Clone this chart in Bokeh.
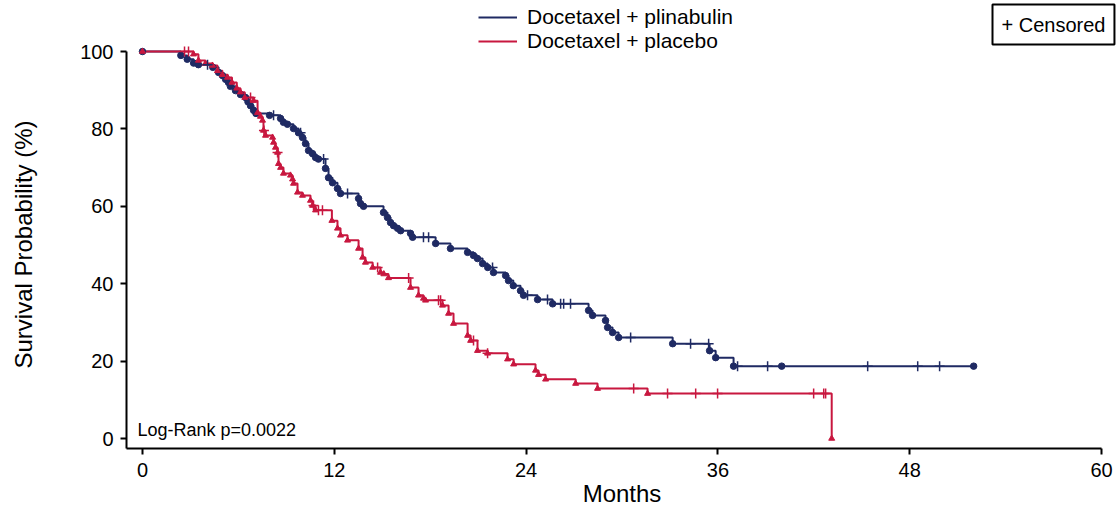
import numpy as np
from bokeh.plotting import figure
from bokeh.models import (ColumnDataSource, FixedTicker, Legend, LegendItem,
                          Label, Range1d, Title)
from bokeh.embed import file_html
from bokeh.resources import INLINE

FONT = "Liberation Sans"
BLUE = "#1f2a63"
RED = "#c8173f"

# ---------------- data ----------------
# Docetaxel + plinabulin: step times (months) and survival (%) after each step
plin_time = [0, 2.4, 2.8, 3.2, 3.5, 4.4, 4.76, 5.0, 5.2, 5.38, 5.5, 5.82, 6.13,
             6.45, 6.6, 6.76, 6.95, 7.1, 7.95, 8.64, 8.82, 9.07, 9.45, 9.76,
             10.01, 10.2, 10.39, 10.64, 10.83, 11.01, 11.45, 11.64, 11.89, 12.2,
             12.39, 13.52, 13.64, 13.83, 15.08, 15.33, 15.52, 15.71, 15.96,
             16.15, 16.77, 16.9, 18.34, 19.27, 20.34, 20.71, 20.96, 21.28, 21.6,
             21.96, 22.72, 22.9, 23.2, 23.65, 23.84, 24.72, 25.66, 27.91, 28.16,
             28.97, 29.1, 29.41, 29.79, 33.17, 35.48, 35.86, 36.98, 39.99, 52.0]
plin_surv = [100, 99.0, 98.0, 97.0, 96.6, 95.9, 94.6, 93.8, 92.8, 92.0, 91.0,
             89.9, 88.9, 88.1, 87.0, 86.0, 84.8, 84.0, 83.5, 82.7, 81.7, 81.2,
             80.1, 79.0, 77.8, 76.2, 74.4, 73.6, 72.6, 72.2, 69.8, 67.4, 66.1,
             64.6, 63.3, 62.0, 60.7, 60.0, 58.4, 57.1, 55.8, 55.0, 54.3, 53.7,
             53.0, 52.0, 50.4, 49.1, 48.1, 47.3, 46.5, 45.2, 44.2, 42.9, 42.1,
             40.8, 39.5, 38.2, 37.0, 35.9, 34.8, 33.1, 31.8, 30.5, 28.7, 27.4,
             26.1, 24.5, 22.7, 20.9, 18.7, 18.7, 18.7]
plin_censored = [4.07, 8.2, 9.89, 11.33, 12.83, 17.58, 17.9, 21.9, 24.09, 25.34,
                 26.16, 26.35, 26.78, 30.54, 34.29, 35.42, 37.23, 39.11, 45.37,
                 48.5, 49.87]

# Docetaxel + placebo
plac_time = [0, 3.19, 3.5, 3.94, 4.38, 4.69, 5.0, 5.32, 5.6, 5.9, 6.13, 6.4,
             6.95, 7.2, 7.38, 7.51, 7.57, 7.7, 8.14, 8.2, 8.32, 8.45, 8.51, 8.64,
             8.82, 9.26, 9.39, 9.45, 9.7, 10.01, 10.51, 10.64, 10.83, 11.85,
             12.2, 12.39, 12.83, 13.52, 13.77, 13.95, 14.4, 14.89, 15.1, 15.39,
             16.77, 17.27, 17.58, 17.71, 18.77, 19.15, 19.46, 20.34, 20.53,
             20.96, 21.59, 22.84, 23.22, 24.59, 24.78, 25.22, 27.1, 28.47, 31.6,
             43.12]
plac_surv = [100, 99.3, 97.7, 96.9, 96.4, 95.0, 94.0, 93.3, 92.0, 90.5, 89.5,
             88.1, 87.3, 84.2, 83.2, 82.2, 79.6, 78.3, 77.8, 76.5, 75.2, 73.9,
             71.0, 70.0, 68.5, 68.0, 67.0, 65.9, 63.6, 62.8, 61.5, 60.2, 59.0,
             56.3, 54.3, 52.5, 51.2, 49.1, 46.8, 45.5, 44.2, 42.9, 42.5, 41.5,
             39.0, 37.0, 36.2, 35.7, 34.4, 32.3, 29.7, 26.6, 25.3, 22.7, 22.0,
             20.5, 19.2, 17.6, 16.5, 15.3, 14.2, 12.9, 11.6, 0.0]
plac_censored = [2.63, 2.88, 6.76, 7.6, 8.45, 10.7, 11.01, 11.26, 14.71, 16.65,
                 18.52, 18.65, 20.71, 21.59, 30.73, 32.85, 34.61, 35.98, 41.99,
                 42.62, 42.74]

x_ticks = [0, 12, 24, 36, 48, 60]
y_ticks = [0, 20, 40, 60, 80, 100]
series_names = ["Docetaxel + plinabulin", "Docetaxel + placebo"]
pvalue_text = "Log-Rank p=0.0022"
censor_text = "+ Censored"


def surv_at(times, surv, t):
    idx = np.searchsorted(np.asarray(times), np.asarray(t), side="right") - 1
    return list(np.asarray(surv)[idx])


src_b = ColumnDataSource(dict(t=plin_time, s=plin_surv))
src_r = ColumnDataSource(dict(t=plac_time, s=plac_surv))
cen_b = ColumnDataSource(dict(t=plin_censored,
                              s=surv_at(plin_time, plin_surv, plin_censored)))
cen_r = ColumnDataSource(dict(t=plac_censored,
                              s=surv_at(plac_time, plac_surv, plac_censored)))

p = figure(width=1117, height=512, output_backend="svg", toolbar_location=None,
           x_range=Range1d(-1.0, 61.0), y_range=Range1d(-2.58, 113.18))
p.min_border = 0
p.min_border_left = 126
p.min_border_top = 0
p.min_border_bottom = 64
p.outline_line_color = None
p.xgrid.visible = False
p.ygrid.visible = False
p.background_fill_color = "white"
p.border_fill_color = "white"

rb = p.step(x="t", y="s", source=src_b, mode="after", line_color=BLUE, line_width=2)
rr = p.step(x="t", y="s", source=src_r, mode="after", line_color=RED, line_width=2)
p.scatter(x="t", y="s", source=src_b, marker="circle", size=6.5,
          fill_color=BLUE, line_color=BLUE)
p.scatter(x="t", y="s", source=src_r, marker="triangle", size=6,
          fill_color=RED, line_color=RED)
p.scatter(x="t", y="s", source=cen_r, marker="cross", size=10,
          line_color=RED, line_width=1.5)
p.scatter(x="t", y="s", source=cen_b, marker="cross", size=10,
          line_color=BLUE, line_width=1.5)

# axes
for ax in (p.xaxis[0], p.yaxis[0]):
    ax.axis_line_width = 2
    ax.axis_line_color = "black"
    ax.major_tick_line_width = 2
    ax.major_tick_line_color = "black"
    ax.major_tick_in = 0
    ax.major_tick_out = 6
    ax.minor_tick_line_color = None
    ax.major_label_text_font = FONT
    ax.major_label_text_font_size = "20px"
    ax.major_label_text_color = "black"
    ax.axis_label_text_font = FONT
    ax.axis_label_text_font_size = "24px"
    ax.axis_label_text_font_style = "normal"
    ax.axis_label_text_color = "black"

p.xaxis.ticker = FixedTicker(ticks=x_ticks)
p.yaxis.ticker = FixedTicker(ticks=y_ticks)
p.xaxis.bounds = (-1.0, 60)
p.yaxis.bounds = (-2.58, 100)
p.xaxis.axis_label = "Months"
p.xaxis.major_label_standoff = 8
p.xaxis.axis_label_standoff = 0
p.yaxis.major_label_standoff = 7
# blank, tiny axis label only reserves the gap between tick labels and title
p.yaxis.axis_label = " "
p.yaxis.axis_label_text_font_size = "1px"
p.yaxis.axis_label_standoff = 28

# y-axis title, centred on the drawn axis span (0..100) rather than the frame
ytitle = Title(text="Survival Probability (%)", align="left",
               vertical_align="middle", offset=80, standoff=16,
               text_font=FONT, text_font_size="24px", text_font_style="normal",
               text_color="black")
p.add_layout(ytitle, "left")

legend = Legend(items=[LegendItem(label=series_names[0], renderers=[rb]),
                       LegendItem(label=series_names[1], renderers=[rr])],
                location=(352, 395), orientation="vertical",
                padding=0, margin=0, spacing=0,
                glyph_width=39, glyph_height=24, label_height=24,
                label_standoff=10, label_text_font=FONT,
                label_text_font_size="21px", label_text_color="black",
                border_line_color=None, background_fill_alpha=0)
p.add_layout(legend)

p.add_layout(Label(x=866, y=444, x_units="screen", y_units="screen",
                   text=censor_text, text_font=FONT, text_font_size="20px",
                   text_baseline="top", text_align="left", text_color="black",
                   padding=9, border_line_color="black", border_line_width=2,
                   background_fill_color="white"))

p.add_layout(Label(x=11, y=19, x_units="screen", y_units="screen",
                   text=pvalue_text, text_font=FONT, text_font_size="18px",
                   text_baseline="alphabetic", text_color="black"))

open("out.html", "w").write(file_html(p, INLINE))
